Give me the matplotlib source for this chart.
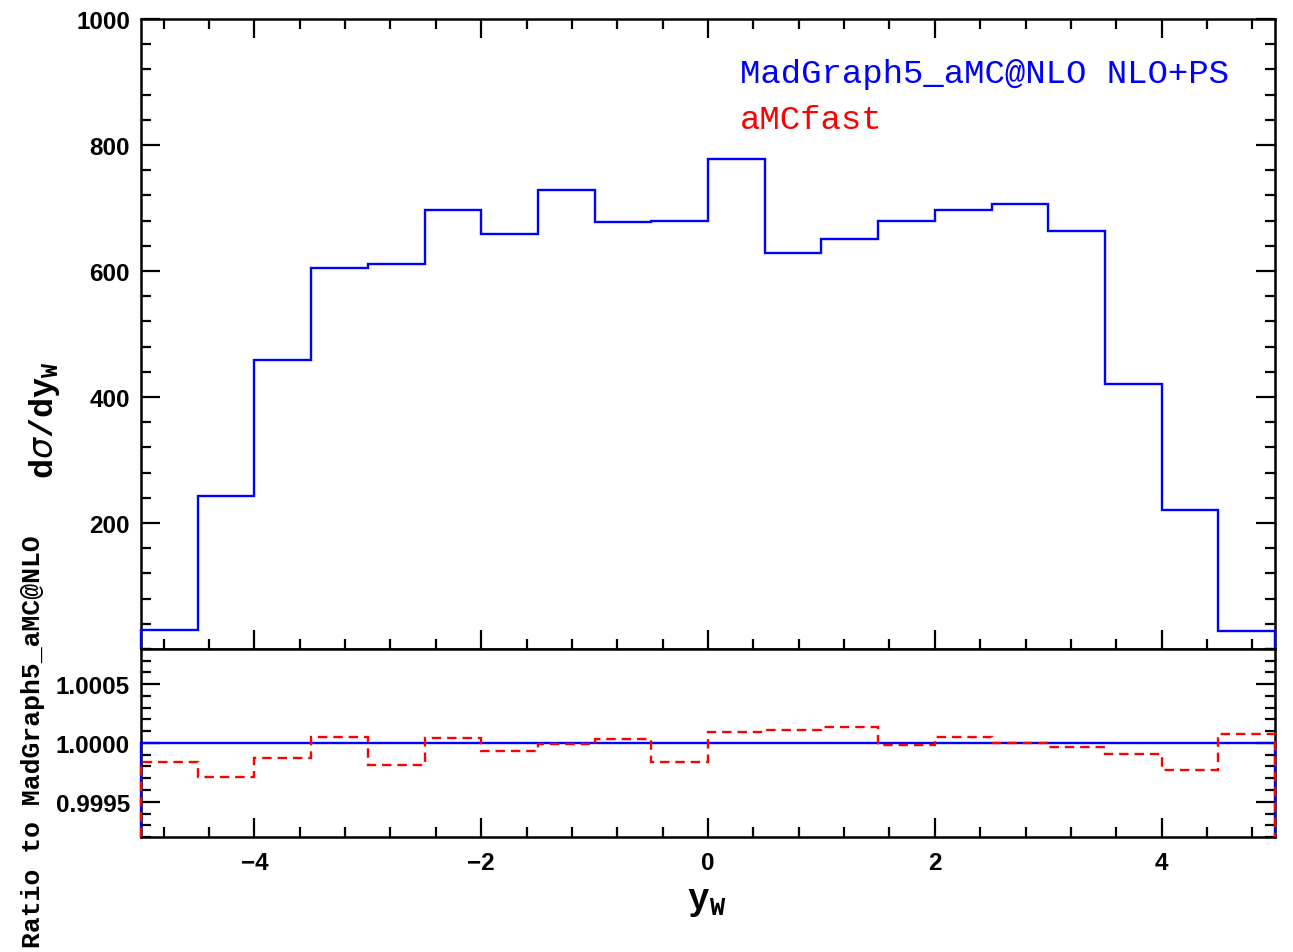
import matplotlib
matplotlib.use("Agg")
import matplotlib.pyplot as plt
from matplotlib.ticker import MultipleLocator, FormatStrFormatter

# bin edges of y_W and histogram contents
edges = [-5.0, -4.5, -4.0, -3.5, -3.0, -2.5, -2.0, -1.5, -1.0, -0.5, 0.0,
         0.5, 1.0, 1.5, 2.0, 2.5, 3.0, 3.5, 4.0, 4.5, 5.0]
mg5_xsec = [30, 243, 459, 605, 611, 697, 659, 728, 678, 679,
            778, 629, 651, 679, 697, 706, 663, 420, 220, 29]
mg5_ratio = [1.0] * 20
amcfast_ratio = [0.99984, 0.99971, 0.99987, 1.00005, 0.99981, 1.00004, 0.99993,
                 0.99999, 1.00003, 0.99984, 1.00009, 1.00011, 1.00014, 0.99998,
                 1.00005, 1.00000, 0.99997, 0.99991, 0.99977, 1.00008]

MONO = "Liberation Mono"

fig = plt.figure(figsize=(12.93, 9.53), dpi=100)
left, right = 141 / 1293, 1275 / 1293
ax = fig.add_axes([left, 1 - 650 / 953, right - left, 630 / 953])
axr = fig.add_axes([left, 1 - 838 / 953, right - left, 188 / 953], sharex=ax)

ax.set_xlim(-5, 5)
ax.set_ylim(0, 1000)
axr.set_ylim(0.99920, 1.00080)
rbase = axr.get_ylim()[0]

ax.stairs(mg5_xsec, edges, baseline=0, color="blue", lw=1.7,
          zorder=5, clip_on=False)
axr.stairs(mg5_ratio, edges, baseline=rbase, color="blue", lw=1.7,
           zorder=5, clip_on=False)
axr.stairs(amcfast_ratio, edges, baseline=rbase, color="red", lw=1.7,
           linestyle=(0, (4, 2.5)), zorder=6, clip_on=False)

for a in (ax, axr):
    for s in a.spines.values():
        s.set_linewidth(1.8)
    a.tick_params(which="both", direction="in", width=1.6, top=True, right=True)
    a.tick_params(which="major", length=14)
    a.tick_params(which="minor", length=7)
    a.xaxis.set_major_locator(MultipleLocator(2))
    a.xaxis.set_minor_locator(MultipleLocator(0.4))

axr.tick_params(which="both", top=False)
ax.tick_params(labelbottom=False)
ax.yaxis.set_minor_locator(MultipleLocator(40))
ax.set_yticks([200, 400, 600, 800, 1000])
axr.yaxis.set_minor_locator(MultipleLocator(0.0001))
axr.yaxis.set_major_formatter(FormatStrFormatter("%.4f"))
axr.set_yticks([0.9995, 1.0, 1.0005])

for a in (ax, axr):
    for lab in a.get_xticklabels() + a.get_yticklabels():
        lab.set_family("Liberation Sans")
        lab.set_fontweight("bold")
        lab.set_fontsize(17.5)
axr.tick_params(axis="x", pad=10)
axr.tick_params(axis="y", pad=8)
ax.tick_params(axis="y", pad=8)

ax.text(0.528, 0.913, "MadGraph5_aMC@NLO NLO+PS", transform=ax.transAxes,
        color="blue", family=MONO, fontsize=24.5, va="center", ha="left")
ax.text(0.528, 0.840, "aMCfast", transform=ax.transAxes,
        color="red", family=MONO, fontsize=24.5, va="center", ha="left")

fig.text(45 / 1293, 1 - 420 / 953, r"d$\sigma$/dy$_\mathregular{W}$",
         rotation=90, family=MONO, fontsize=24, va="center", ha="center",
         fontweight="bold")
fig.text(33 / 1293, 1 - 742 / 953, "Ratio to MadGraph5_aMC@NLO",
         rotation=90, family=MONO, fontsize=19, va="center", ha="center",
         fontweight="bold")
fig.text(707 / 1293, 1 - 902 / 953, r"y$_\mathregular{W}$",
         family=MONO, fontsize=26, va="center", ha="center", fontweight="bold")

fig.savefig("out.png", dpi=100)
